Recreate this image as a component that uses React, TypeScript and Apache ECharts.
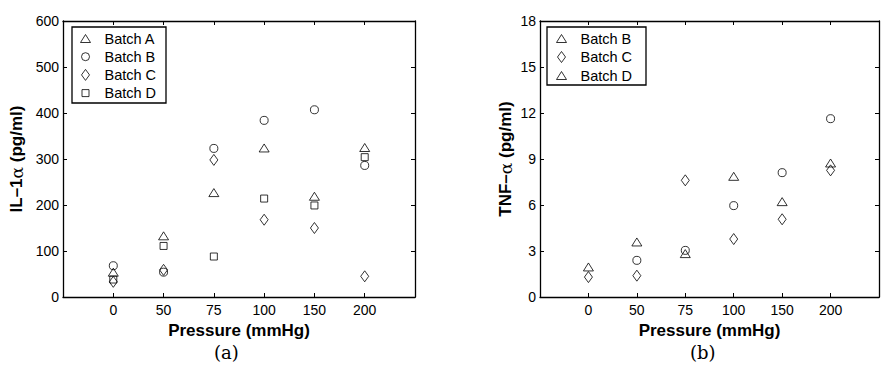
import React, { useEffect, useRef } from "react";
import * as echarts from "echarts";

const pressureLabels = ["0", "50", "75", "100", "150", "200"];

// Panel (a): IL-1α (pg/ml)
const il1BatchA = [54, 133, 227, 324, 219, 325];
const il1BatchB = [68, 54, 323, 384, 407, 286];
const il1BatchC = [33, 59, 298, 168, 150, 45];
const il1BatchD = [38, 111, 88, 214, 199, 304];

// Panel (b): TNF-α (pg/ml)
const tnfBatchB = [1.96, 3.59, 2.83, 7.87, 6.22, 8.74];
const tnfBatchC = [1.3, 1.39, 7.61, 3.78, 5.07, 8.26];
const tnfBatchD = [null, 2.39, 3.04, 5.96, 8.11, 11.63];

const FONT = "'Liberation Sans', Arial, Helvetica, sans-serif";

const SYM = {
  triangle: "path://M0,0M11,11M5.5,1.5L10.5,9.5L0.5,9.5Z",
  circle: "path://M0,0M11,11M9.5,5.5A4,4,0,1,1,1.5,5.5A4,4,0,1,1,9.5,5.5Z",
  diamond: "path://M0,0M11,11M5.5,0L9.5,5.5L5.5,11L1.5,5.5Z",
  square: "path://M0,0M11,11M2,2L9,2L9,9L2,9Z",
};

const toPairs = (vals: (number | null)[]) =>
  vals.map((v, i) => (v === null ? [i, "-"] : [i, v]));

const markerStyle = {
  color: "rgba(0,0,0,0)",
  borderColor: "#000",
  borderWidth: 1,
};

const axisLineStyle = { onZero: false, lineStyle: { color: "#000", width: 1.3 } };
const tickStyle = { inside: true, length: 4, lineStyle: { color: "#000", width: 1 } };

function xAxes(gridIndex: number) {
  return [
    {
      type: "value",
      gridIndex,
      min: -1,
      max: 6,
      interval: 1,
      position: "bottom",
      axisLine: axisLineStyle,
      axisTick: tickStyle,
      splitLine: { show: false },
      axisLabel: {
        formatter: (v: number) => (pressureLabels[v] !== undefined ? pressureLabels[v] : ""),
        fontSize: 14,
        color: "#000",
        fontFamily: FONT,
        margin: 6,
      },
      name: "Pressure (mmHg)",
      nameLocation: "middle",
      nameGap: 18,
      nameTextStyle: { fontSize: 17, fontWeight: "bold", color: "#000", fontFamily: FONT },
    },
    {
      type: "value",
      gridIndex,
      min: -1,
      max: 6,
      interval: 1,
      position: "top",
      axisLine: axisLineStyle,
      axisTick: tickStyle,
      splitLine: { show: false },
      axisLabel: { show: false },
    },
  ];
}

function yAxes(gridIndex: number, max: number, interval: number, name: string, gap: number) {
  return [
    {
      type: "value",
      gridIndex,
      min: 0,
      max,
      interval,
      position: "left",
      axisLine: { show: true, ...axisLineStyle },
      axisTick: { show: true, ...tickStyle },
      splitLine: { show: false },
      axisLabel: { fontSize: 14, color: "#000", fontFamily: FONT, margin: 4 },
      name,
      nameLocation: "middle",
      nameGap: gap,
      nameTextStyle: {
        fontSize: 17,
        fontWeight: "bold",
        color: "#000",
        fontFamily: FONT,
        rich: {
          a: { fontSize: 17, fontWeight: "normal", color: "#000", fontFamily: "'DejaVu Serif', serif" },
        },
      },
    },
    {
      type: "value",
      gridIndex,
      min: 0,
      max,
      interval,
      position: "right",
      axisLine: { show: true, ...axisLineStyle },
      axisTick: { show: true, ...tickStyle },
      splitLine: { show: false },
      axisLabel: { show: false },
    },
  ];
}

function scatter(name: string, symbol: string, vals: (number | null)[], grid: number) {
  return {
    type: "scatter",
    name,
    symbol,
    symbolSize: 11,
    xAxisIndex: grid * 2,
    yAxisIndex: grid * 2,
    itemStyle: markerStyle,
    data: toPairs(vals),
  };
}

const legendBase = {
  orient: "vertical",
  selectedMode: false,
  itemWidth: 28,
  itemHeight: 11,
  borderWidth: 0,
  padding: 0,
  textStyle: { fontSize: 14.5, color: "#000", fontFamily: FONT },
  itemStyle: markerStyle,
  z: 5,
};

export default function App() {
  const ref = useRef<HTMLDivElement>(null);
  useEffect(() => {
    document.body.style.margin = "0";
    if (!ref.current) return;
    const chart = echarts.init(ref.current, null, { renderer: "svg" });
    const option = {
      animation: false,
      backgroundColor: "#fff",
      grid: [
        { left: 63, top: 21, width: 352, height: 276 },
        { left: 540, top: 21, width: 351, height: 276 },
      ],
      xAxis: [...xAxes(0), ...xAxes(1)],
      yAxis: [
        ...yAxes(0, 600, 100, "IL–1{a|α} (pg/ml)", 38),
        ...yAxes(1, 18, 3, "TNF–{a|α} (pg/ml)", 26),
      ],
      legend: [
        {
          ...legendBase,
          left: 79.5,
          top: 31,
          itemGap: 3.2,
          data: [
            { name: "Batch A", icon: SYM.triangle },
            { name: "Batch B", icon: SYM.circle },
            { name: "Batch C", icon: SYM.diamond },
            { name: "Batch D", icon: SYM.square },
          ],
        },
        {
          ...legendBase,
          left: 555.5,
          top: 31,
          itemGap: 3.5,
          data: [
            { name: "Batch B", icon: SYM.triangle },
            { name: "Batch C", icon: SYM.diamond },
            { name: "Batch D", icon: SYM.triangle },
          ],
        },
      ],
      series: [
        scatter("Batch A", SYM.triangle, il1BatchA, 0),
        scatter("Batch B", SYM.circle, il1BatchB, 0),
        scatter("Batch C", SYM.diamond, il1BatchC, 0),
        scatter("Batch D", SYM.square, il1BatchD, 0),
        scatter("Batch B", SYM.triangle, tnfBatchB, 1),
        scatter("Batch C", SYM.diamond, tnfBatchC, 1),
        scatter("Batch D", SYM.circle, tnfBatchD, 1),
      ],
      graphic: [
        {
          type: "rect",
          z: 3,
          shape: { x: 72, y: 27, width: 94, height: 76 },
          style: { fill: "#fff", stroke: "#000", lineWidth: 1.3 },
        },
        {
          type: "rect",
          z: 3,
          shape: { x: 547, y: 27, width: 99, height: 58 },
          style: { fill: "#fff", stroke: "#000", lineWidth: 1.3 },
        },
        {
          type: "text",
          left: 227 - 13,
          top: 343,
          style: { text: "(a)", fontSize: 18, fontFamily: "'DejaVu Serif', serif", fill: "#000" },
        },
        {
          type: "text",
          left: 703 - 13,
          top: 343,
          style: { text: "(b)", fontSize: 18, fontFamily: "'DejaVu Serif', serif", fill: "#000" },
        },
      ],
    };
    chart.setOption(option as any);
    return () => chart.dispose();
  }, []);
  return (
    <div
      ref={ref}
      style={{ position: "fixed", left: 0, top: 0, width: 882, height: 372, background: "#fff" }}
    />
  );
}
